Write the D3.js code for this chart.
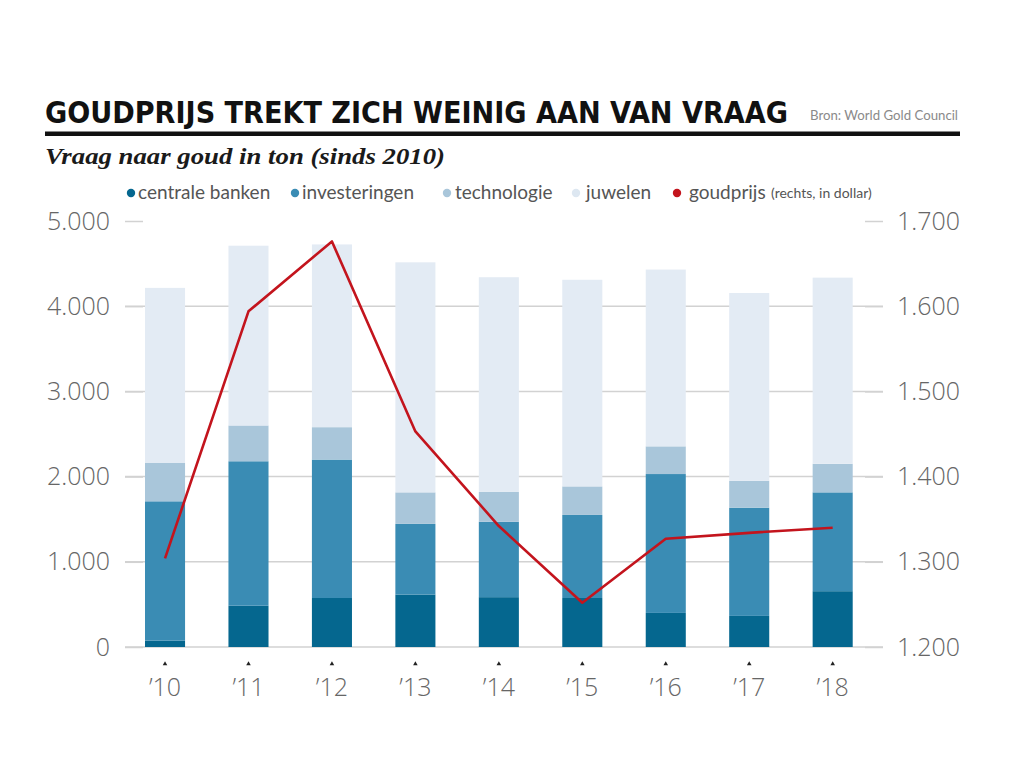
<!DOCTYPE html>
<html>
<head>
<meta charset="utf-8">
<script src="https://cdn.jsdelivr.net/npm/d3@7"></script>
<style>
  html, body { margin: 0; padding: 0; background: #fff; }
  svg { display: block; }
</style>
</head>
<body>
<svg id="chart" width="1024" height="764"></svg>
<script>
// ---- data ----
const years = ["’10", "’11", "’12", "’13", "’14", "’15", "’16", "’17", "’18"];
const centraleBanken = [75, 485, 575, 615, 585, 575, 400, 365, 655];
const investeringen = [1635, 1695, 1625, 830, 885, 975, 1630, 1270, 1160];
const technologie = [450, 420, 380, 370, 350, 335, 325, 315, 335];
const juwelen = [2055, 2110, 2145, 2700, 2520, 2425, 2075, 2205, 2185];
const goudprijs = [1304, 1594, 1676, 1453, 1342, 1252, 1327, 1334, 1340];
const leftTicks = [0, 1000, 2000, 3000, 4000, 5000];
const rightTicks = [1200, 1300, 1400, 1500, 1600, 1700];
const seriesNames = ["centrale banken", "investeringen", "technologie", "juwelen"];
const lineName = "goudprijs";
const lineNote = "(rechts, in dollar)";
const title = "GOUDPRIJS TREKT ZICH WEINIG AAN VAN VRAAG";
const source = "Bron: World Gold Council";
const subtitle = "Vraag naar goud in ton (sinds 2010)";

// ---- styles ----
const colors = ["#05678f", "#3a8cb4", "#a9c6da", "#e3ebf4"];
const lineColor = "#c3141d";
const legendDotColors = ["#05678f", "#3a8cb4", "#a9c6da", "#dde7f1"];

const nl = d3.formatLocale({decimal: ",", thousands: ".", grouping: [3], currency: ["€", ""]});
const fmt = nl.format(",");

const svg = d3.select("#chart");

// table for stacking
const table = years.map((y, i) => ({
  year: y,
  "centrale banken": centraleBanken[i],
  "investeringen": investeringen[i],
  "technologie": technologie[i],
  "juwelen": juwelen[i],
  price: goudprijs[i]
}));
const stacked = d3.stack().keys(seriesNames)(table);

// scales
const x = d3.scaleBand().domain(years).range([123.3, 874.4]).paddingInner(0.52).paddingOuter(0.26);
const y = d3.scaleLinear().domain([0, 5000]).range([647, 221]);
const y2 = d3.scaleLinear().domain([1200, 1700]).range([647, 221]);

// ---- header ----
svg.append("text")
  .attr("x", 45).attr("y", 123)
  .attr("font-family", "'Liberation Sans Narrow', 'DejaVu Sans Condensed', 'Open Sans', sans-serif")
  .attr("font-stretch", "condensed")
  .attr("font-weight", 700)
  .attr("font-size", 31)
  .attr("fill", "#111")
  .attr("textLength", 743)
  .attr("lengthAdjust", "spacingAndGlyphs")
  .text(title);

svg.append("text")
  .attr("x", 810).attr("y", 120)
  .attr("font-family", "Lato, sans-serif")
  .attr("font-size", 12.5)
  .attr("fill", "#8a8a8a")
  .attr("textLength", 148)
  .attr("lengthAdjust", "spacingAndGlyphs")
  .text(source);

svg.append("rect")
  .attr("x", 45).attr("y", 131.5).attr("width", 915).attr("height", 4.5)
  .attr("fill", "#111");

svg.append("text")
  .attr("x", 45).attr("y", 164)
  .attr("font-family", "'Liberation Serif', 'DejaVu Serif', serif")
  .attr("font-style", "italic")
  .attr("font-weight", 700)
  .attr("font-size", 23.5)
  .attr("fill", "#1a1a1a")
  .attr("textLength", 400)
  .attr("lengthAdjust", "spacingAndGlyphs")
  .text(subtitle);

// ---- legend ----
const legend = svg.append("g").attr("font-family", "Lato, sans-serif").attr("fill", "#555");
const legDotX = [131, 295, 447, 576, 677];
const legTextX = [138, 302, 455, 586, 689];
const legItems = seriesNames.concat([lineName]);
const legColors = legendDotColors.concat([lineColor]);
legItems.forEach((name, i) => {
  legend.append("circle").attr("cx", legDotX[i]).attr("cy", 193).attr("r", 4.2).attr("fill", legColors[i]);
  legend.append("text").attr("x", legTextX[i]).attr("y", 199)
    .attr("font-size", 19).attr("fill", "#555").text(name);
});
legend.append("text").attr("x", 771).attr("y", 198)
  .attr("font-size", 14).attr("fill", "#555").text(lineNote);

// ---- gridlines ----
const grid = svg.append("g");
grid.selectAll("line")
  .data(leftTicks.filter(d => d < 5000))
  .join("line")
  .attr("x1", 125).attr("x2", 883)
  .attr("y1", d => y(d)).attr("y2", d => y(d))
  .attr("stroke", "#d2d2d2").attr("stroke-width", 1.5);

// ---- bars ----
svg.append("g").selectAll("g")
  .data(stacked)
  .join("g")
  .attr("fill", (d, i) => colors[i])
  .selectAll("rect")
  .data(d => d)
  .join("rect")
  .attr("x", d => x(d.data.year))
  .attr("width", x.bandwidth())
  .attr("y", d => y(d[1]))
  .attr("height", d => y(d[0]) - y(d[1]));

// ---- left axis ----
const leftAxis = svg.append("g")
  .attr("transform", "translate(143,0)")
  .call(d3.axisLeft(y).tickValues(leftTicks).tickFormat(fmt).tickSize(18).tickPadding(15));
leftAxis.select(".domain").remove();
leftAxis.selectAll(".tick line").attr("stroke", "#d2d2d2").attr("stroke-width", 1.5);
leftAxis.selectAll(".tick text")
  .attr("font-family", "'Open Sans', sans-serif")
  .attr("font-weight", 300)
  .attr("font-size", 25)
  .attr("fill", "#666");

// ---- right axis ----
const rightAxis = svg.append("g")
  .attr("transform", "translate(865,0)")
  .call(d3.axisRight(y2).tickValues(rightTicks).tickFormat(fmt).tickSize(18).tickPadding(14));
rightAxis.select(".domain").remove();
rightAxis.selectAll(".tick line").attr("stroke", "#d2d2d2").attr("stroke-width", 1.5);
rightAxis.selectAll(".tick text")
  .attr("font-family", "'Open Sans', sans-serif")
  .attr("font-weight", 300)
  .attr("font-size", 25)
  .attr("fill", "#666");

// ---- x axis ----
const xAxis = svg.append("g")
  .attr("transform", "translate(0,664)")
  .call(d3.axisBottom(x).tickSize(0).tickPadding(14));
xAxis.select(".domain").remove();
xAxis.selectAll(".tick text")
  .attr("font-family", "'Open Sans', sans-serif")
  .attr("font-weight", 300)
  .attr("font-size", 25)
  .attr("fill", "#666");
xAxis.selectAll(".tick").append("path")
  .attr("d", d3.symbol(d3.symbolTriangle, 9))
  .attr("fill", "#222");

// ---- price line ----
svg.append("path")
  .datum(table)
  .attr("fill", "none")
  .attr("stroke", lineColor)
  .attr("stroke-width", 2.6)
  .attr("stroke-linejoin", "round")
  .attr("d", d3.line().x(d => x(d.year) + x.bandwidth() / 2).y(d => y2(d.price)));
</script>
</body>
</html>
